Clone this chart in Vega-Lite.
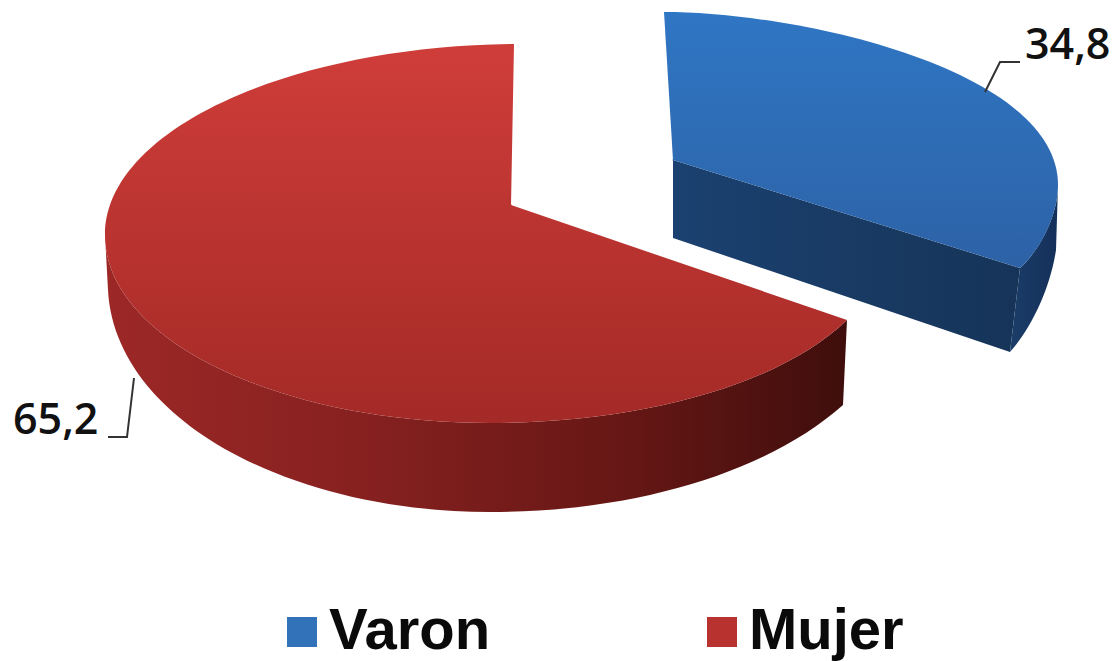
{
"$schema":"https://vega.github.io/schema/vega-lite/v6.json",
"width":1117,"height":661,"padding":0,"autosize":{"type":"none"},
"background":"white",
"view":{"stroke":null},
"data":{"values":[{"sexo":"Varon","valor":34.8,"etiqueta":"34,8"},{"sexo":"Mujer","valor":65.2,"etiqueta":"65,2"}]},
"encoding":{
"x":{"field":"sexo","type":"nominal","axis":null,"scale":{"type":"point","domain":["Varon","Mujer"],"range":[673,511],"padding":0}},
"y":{"field":"sexo","type":"nominal","axis":null,"scale":{"type":"point","domain":["Varon","Mujer"],"range":[160,205],"padding":0}}
},
"layer":[
{"mark":{"type":"point","shape":"square","filled":true,"size":1,"opacity":1},
"encoding":{"color":{"field":"sexo","type":"nominal","scale":{"domain":["Varon","Mujer"],"range":["#3272b8","#b8322f"]},
"legend":{"title":null,"orient":"none","legendX":273,"legendY":603,"direction":"horizontal","columns":2,"symbolType":"square","symbolSize":900,"symbolOpacity":1,"labelFont":"Liberation Sans","labelFontSize":58,"labelFontWeight":"bold","labelColor":"#0a0a0a","labelLimit":400,"columnPadding":202,"labelOffset":-2,"symbolStrokeWidth":0}}}},
{"transform":[{"filter":"datum.sexo==='Mujer'"}],
"mark":{"type":"point","filled":true,"opacity":1,"size":4,"shape":"M-406,30 C-406,135 -231,218 -21,218 C129,218 269,180 336,115 L332,200 C259,265 129,307 -21,307 C-221,307 -396,215 -403,85 Z",
"fill":{"gradient":"linear","x1":0,"y1":0,"x2":1,"y2":0,"stops":[{"offset":0,"color":"#9c2826"},{"offset":0.35,"color":"#862120"},{"offset":0.7,"color":"#661715"},{"offset":1,"color":"#3f0e0c"}]}}},
{"transform":[{"filter":"datum.sexo==='Mujer'"}],
"mark":{"type":"point","filled":true,"opacity":1,"size":4,"shape":"M0,0 L3,-161 C-221,-159 -406,-75 -406,30 C-406,135 -231,218 -21,218 C129,218 269,180 336,115 Z",
"fill":{"gradient":"linear","x1":0,"y1":0,"x2":0,"y2":1,"stops":[{"offset":0,"color":"#cf3d39"},{"offset":1,"color":"#a42a27"}]}}},
{"transform":[{"filter":"datum.sexo==='Varon'"}],
"mark":{"type":"point","filled":true,"opacity":1,"size":4,"shape":"M0,0 L347,108 L337,192 L0,78 Z",
"fill":{"gradient":"linear","x1":0,"y1":0,"x2":1,"y2":0,"stops":[{"offset":0,"color":"#1b4170"},{"offset":1,"color":"#163458"}]}}},
{"transform":[{"filter":"datum.sexo==='Varon'"}],
"mark":{"type":"point","filled":true,"opacity":1,"size":4,"shape":"M347,108 C367,90 385,55 385,25 L383,90 C377,130 357,170 337,192 Z",
"fill":{"gradient":"linear","x1":0,"y1":0,"x2":1,"y2":0,"stops":[{"offset":0,"color":"#1a3d68"},{"offset":1,"color":"#14305a"}]}}},
{"transform":[{"filter":"datum.sexo==='Varon'"}],
"mark":{"type":"point","filled":true,"opacity":1,"size":4,"shape":"M0,0 L-9,-148 C127,-148 385,-90 385,25 C385,55 367,90 347,108 Z",
"fill":{"gradient":"linear","x1":0,"y1":0,"x2":0,"y2":1,"stops":[{"offset":0,"color":"#2f76c4"},{"offset":1,"color":"#2d62a6"}]}}},
{"transform":[{"filter":"datum.sexo==='Varon'"}],
"mark":{"type":"point","filled":false,"opacity":1,"size":4,"stroke":"#333333","strokeWidth":2,"shape":"M312,-68 L327,-98 L347,-98"}},
{"transform":[{"filter":"datum.sexo==='Mujer'"}],
"mark":{"type":"point","filled":false,"opacity":1,"size":4,"stroke":"#333333","strokeWidth":2,"shape":"M-377,173 L-384,232 L-403,232"}},
{"transform":[{"filter":"datum.sexo==='Varon'"}],
"mark":{"type":"text","align":"left","baseline":"middle","dx":352,"dy":-114,"font":"Open Sans","fontSize":43,"fontWeight":600,"color":"#111111"},
"encoding":{"text":{"field":"etiqueta"}}},
{"transform":[{"filter":"datum.sexo==='Mujer'"}],
"mark":{"type":"text","align":"left","baseline":"middle","dx":-498,"dy":216,"font":"Open Sans","fontSize":43,"fontWeight":600,"color":"#111111"},
"encoding":{"text":{"field":"etiqueta"}}}
]
}
